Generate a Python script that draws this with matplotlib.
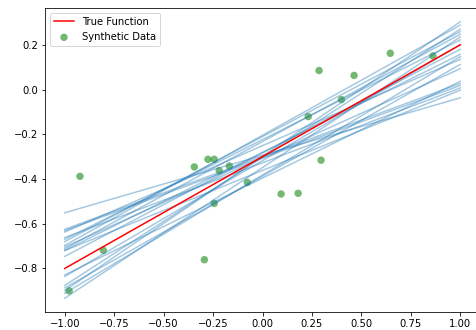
import matplotlib
matplotlib.use("Agg")
import matplotlib.pyplot as plt
import numpy as np

# synthetic data points
data_x = [-0.978, -0.923, -0.805, -0.345, -0.294, -0.276, -0.244, -0.244, -0.219, -0.168,
          -0.077, 0.094, 0.180, 0.231, 0.286, 0.296, 0.399, 0.463, 0.646, 0.862]
data_y = [-0.900, -0.388, -0.719, -0.346, -0.761, -0.312, -0.312, -0.509, -0.363, -0.342,
          -0.415, -0.467, -0.464, -0.121, 0.085, -0.316, -0.045, 0.063, 0.162, 0.150]

# fitted lines: value at x=-1 and value at x=1
fit_left = [-0.551, -0.625, -0.631, -0.637, -0.662, -0.670, -0.680, -0.697, -0.704, -0.712,
            -0.719, -0.720, -0.746, -0.829, -0.836, -0.876, -0.887, -0.899, -0.911, -0.933]
fit_right = [-0.037, 0.027, 0.018, 0.135, 0.007, 0.222, 0.259, 0.288, 0.093, 0.247,
             0.157, -0.003, 0.180, 0.037, 0.200, 0.270, 0.112, 0.303, 0.147, 0.235]

# true function y = a*x + b
true_slope = 0.5
true_intercept = -0.3

fig = plt.figure(figsize=(476 / 72, 330 / 72), dpi=72)
ax = fig.add_axes([0.0945, 0.0545, 0.914, 0.9215])

xs = np.array([-1.0, 1.0])
for left, right in zip(fit_left, fit_right):
    ax.plot(xs, [left, right], color='tab:blue', alpha=0.4, linewidth=1.5)

ax.plot(xs, true_slope * xs + true_intercept, color='red', linewidth=1.5, label='True Function')
ax.scatter(data_x, data_y, color='green', alpha=0.55, s=55, edgecolors='none', label='Synthetic Data')

ax.legend(loc='upper left')

fig.savefig('out.png', dpi=72)
